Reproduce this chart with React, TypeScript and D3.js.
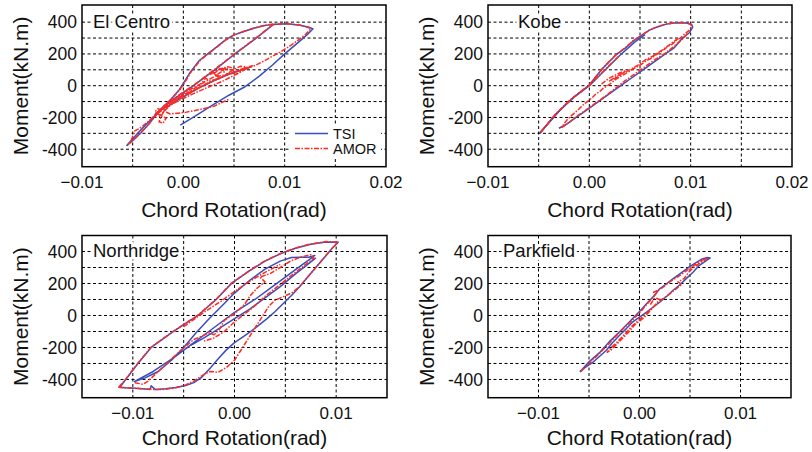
import React from "react";
import * as d3 from "d3";

type Pt = [number, number];

// ---------- Tick labels ----------
const xTicksWide = [-0.01, 0, 0.01, 0.02];
const xTicksNarrow = [-0.01, 0, 0.01];
const yTicks = [-400, -200, 0, 200, 400];
const yGrid = [-400, -300, -200, -100, 0, 100, 200, 300, 400];
const panelNames = ["El Centro", "Kobe", "Northridge", "Parkfield"];
const seriesNames = ["TSI", "AMOR"];

// ---------- El Centro ----------
const elCentroTsiOuter: Pt[] = [
  [-0.0056, -378], [-0.0049, -340], [-0.0042, -298], [-0.0036, -256], [-0.0029, -200], [-0.0023, -152],
  [-0.0016, -110], [-0.001, -69], [-0.0004, -25], [0, 15], [0.0007, 87], [0.0016, 160], [0.0025, 205],
  [0.0033, 244], [0.0041, 285], [0.0049, 317], [0.0059, 340], [0.0069, 360], [0.0079, 377], [0.0089, 386],
  [0.0102, 390], [0.0115, 380], [0.0124, 368], [0.0128, 358], [0.0122, 320], [0.0112, 265], [0.01, 200],
  [0.0088, 130], [0.0075, 60], [0.006, -10], [0.0045, -60], [0.0028, -125], [0.0012, -190], [-0.0003, -248],
];
const elCentroTsiDiagonal: Pt[] = [
  [-0.0056, -378], [-0.0045, -300], [-0.0035, -232], [-0.0025, -170], [-0.0012, -95], [0.001, 0],
  [0.003, 95], [0.005, 195], [0.007, 290], [0.0089, 386],
];
const elCentroTsiInner: Pt[] = [
  [-0.0028, -178], [-0.0015, -125], [0, -70], [0.0015, -15], [0.003, 30], [0.0045, 72], [0.006, 105], [0.0068, 122],
];
const elCentroAmorOuter: Pt[] = [
  [-0.0055, -372], [-0.0048, -335], [-0.0042, -295], [-0.0035, -250], [-0.0028, -195], [-0.0022, -150],
  [-0.0015, -105], [-0.0009, -65], [-0.0003, -22], [0.0001, 15], [0.0008, 90], [0.0017, 162], [0.0026, 208],
  [0.0034, 248], [0.0042, 288], [0.005, 320], [0.006, 343], [0.007, 364], [0.008, 380], [0.0089, 388],
  [0.0102, 391], [0.0115, 382], [0.0126, 360], [0.0121, 325], [0.0113, 285], [0.0104, 245], [0.0095, 210],
  [0.0086, 178], [0.0078, 150], [0.0071, 128], [0.0064, 112], [0.0058, 100], [0.0052, 88], [0.0046, 102],
  [0.0042, 115], [0.0038, 95], [0.0044, 70], [0.0035, 60], [0.003, 78], [0.0036, 45], [0.0026, 30],
  [0.0022, 48], [0.0018, 15], [0.0012, -5], [0.0005, -30], [-0.0002, -60], [-0.0008, -90], [-0.0013, -120],
  [-0.0018, -150], [-0.0021, -180], [-0.0024, -228], [-0.002, -236], [-0.0017, -205], [-0.0022, -190],
  [-0.0028, -165], [-0.0025, -145], [-0.0019, -160], [-0.0013, -178], [0.0002, -168], [0.0015, -152],
  [0.003, -130], [0.0045, -85],
];
const elCentroAmorDiagonal: Pt[] = [
  [0.0089, 388], [0.007, 292], [0.005, 198], [0.003, 98], [0.001, 3], [-0.0012, -92], [-0.0025, -165],
  [-0.0035, -228], [-0.0043, -268], [-0.0048, -285], [-0.0052, -355],
];
const elCentroAmorInner: Pt[] = [
  [-0.002, -130], [0, -60], [0.002, 0], [0.004, 62], [0.006, 110], [0.0068, 125], [0.0055, 82],
  [0.004, 32], [0.0025, -8], [0.001, -50], [-0.0005, -95], [-0.0018, -140], [-0.0025, -175],
];
const elCentroAmorCluster: Pt[] = [
  [-0.0022, -150], [-0.001, -95], [0.0008, -30], [0.002, 20], [0.003, 55], [0.0038, 90], [0.0042, 105],
  [0.0036, 110], [0.0032, 85], [0.0026, 70], [0.0034, 100], [0.0044, 120], [0.005, 108], [0.0045, 80],
  [0.0052, 70], [0.0058, 95], [0.0062, 118], [0.0056, 122], [0.0048, 95], [0.004, 60], [0.003, 35],
  [0.002, 5], [0.001, -35], [-0.0005, -85], [-0.0015, -135], [-0.0024, -195],
];

// ---------- Kobe ----------
const kobeTsiOuter: Pt[] = [
  [-0.0049, -298], [-0.004, -235], [-0.003, -162], [-0.0023, -115], [-0.0015, -70], [-0.0008, -35], [0, 4],
  [0.0013, 108], [0.0026, 192], [0.0036, 240], [0.0043, 280], [0.0052, 318], [0.0059, 348], [0.0067, 370],
  [0.0075, 386], [0.0083, 394], [0.0089, 397], [0.0096, 395], [0.0101, 385], [0.0102, 369], [0.0099, 335],
  [0.0092, 300], [0.0084, 240], [0.0075, 200], [0.0064, 150], [0.0053, 100], [0.0042, 50], [0.0031, 0],
  [0.002, -50], [0.0009, -100], [-0.0002, -150], [-0.0013, -200], [-0.0022, -240], [-0.003, -268],
];
const kobeTsiInner: Pt[] = [
  [-0.0049, -298], [-0.0033, -178], [-0.0015, -72], [0, 0], [0.0015, 96], [0.003, 190], [0.0045, 276], [0.0055, 322],
];
const kobeAmorOuter: Pt[] = [
  [-0.0048, -295], [-0.004, -232], [-0.003, -158], [-0.002, -96], [-0.001, -45], [0, 6], [0.0013, 110],
  [0.0026, 194], [0.0036, 242], [0.0043, 282], [0.0052, 320], [0.0059, 350], [0.0067, 372], [0.0075, 387],
  [0.0083, 395], [0.0089, 398], [0.0096, 396], [0.01, 386], [0.0101, 372], [0.0098, 345], [0.0093, 320],
  [0.009, 300], [0.0086, 288], [0.0082, 262], [0.0078, 250], [0.0074, 228], [0.007, 212], [0.0066, 195],
  [0.0061, 172], [0.0057, 160], [0.0052, 138], [0.0047, 118], [0.0043, 105], [0.0038, 85], [0.0034, 70],
  [0.003, 55], [0.0026, 40], [0.0022, 18], [0.0018, 0], [0.0014, -15], [0.001, -38], [0.0006, -55],
  [0.0002, -80], [-0.0002, -100], [-0.0006, -120], [-0.001, -145], [-0.0014, -168], [-0.0018, -190],
  [-0.0022, -215], [-0.0025, -240], [-0.0027, -262], [-0.0024, -250], [-0.002, -232], [-0.0014, -200],
  [-0.0005, -160], [0.0005, -115], [0.0015, -70], [0.0025, -20], [0.0035, 30], [0.0045, 75], [0.0055, 120],
  [0.0065, 165], [0.0075, 205], [0.0085, 255], [0.0093, 300], [0.0097, 330],
];
const kobeAmorCluster: Pt[] = [
  [0.0012, 10], [0.0018, 40], [0.0024, 62], [0.003, 80], [0.0036, 96], [0.0032, 70], [0.0026, 48],
  [0.002, 30], [0.0026, 55], [0.0034, 82], [0.004, 100], [0.0048, 130], [0.0056, 165], [0.0064, 190],
  [0.0072, 225], [0.008, 262], [0.0088, 300],
];
const kobeAmorInner: Pt[] = [
  [-0.0048, -295], [-0.0033, -175], [-0.0015, -70], [0, 2], [0.0015, 98], [0.003, 192],
];

// ---------- Northridge ----------
const northridgeTsiOuter: Pt[] = [
  [-0.0113, -450], [-0.0107, -400], [-0.0095, -300], [-0.0082, -200], [-0.006, -100], [-0.0036, 0],
  [-0.0018, 100], [-0.0003, 200], [0.0015, 280], [0.003, 340], [0.0045, 385], [0.006, 420], [0.0075, 445],
  [0.009, 460], [0.0102, 458], [0.0096, 420], [0.0088, 360], [0.008, 300], [0.0072, 240], [0.0064, 180],
  [0.0056, 125], [0.0048, 75], [0.004, 25], [0.0032, -20], [0.0024, -60], [0.0016, -100], [0.0008, -135],
  [0, -170], [-0.0008, -215], [-0.0016, -270], [-0.0024, -330], [-0.0032, -385], [-0.004, -420],
  [-0.0048, -438], [-0.0058, -450], [-0.0068, -458], [-0.0078, -462], [-0.0082, -440], [-0.0083, -462],
  [-0.0088, -460], [-0.0098, -455], [-0.0108, -452], [-0.0114, -448],
];
const northridgeTsiInner: Pt[] = [
  [-0.0099, -415], [-0.0088, -390], [-0.0075, -350], [-0.0062, -280], [-0.005, -200], [-0.0038, -110],
  [-0.0025, -20], [-0.001, 75], [0, 140], [0.0015, 220], [0.003, 290], [0.0045, 340], [0.0056, 362],
  [0.0065, 364], [0.0073, 364], [0.0079, 375], [0.0065, 310], [0.005, 240], [0.0035, 170], [0.002, 100],
  [0, 20], [-0.002, -75], [-0.004, -170], [-0.006, -265], [-0.008, -350], [-0.0099, -415],
];
const northridgeTsiSegment: Pt[] = [
  [-0.0043, -186], [-0.003, -140], [-0.0015, -80], [0, -20], [0.0015, 40], [0.003, 110], [0.0045, 180],
  [0.006, 260], [0.0072, 320], [0.008, 360],
];
const northridgeAmorOuter: Pt[] = [
  [-0.0114, -448], [-0.0107, -398], [-0.0095, -298], [-0.0082, -198], [-0.006, -98], [-0.0036, 2],
  [-0.0018, 102], [-0.0003, 202], [0.0015, 282], [0.003, 342], [0.0045, 387], [0.006, 422], [0.0075, 447],
  [0.009, 462], [0.0102, 458], [0.0096, 420], [0.0088, 360], [0.008, 300], [0.0072, 240], [0.0064, 180],
  [0.0056, 140], [0.0048, 118], [0.004, 96], [0.0034, 60], [0.003, 20], [0.0025, -30], [0.002, -80],
  [0.0015, -130], [0.001, -180], [0.0005, -230], [0, -280], [-0.0008, -325], [-0.0016, -355],
  [-0.0024, -350], [-0.003, -368], [-0.004, -410], [-0.005, -440], [-0.006, -455], [-0.007, -462],
  [-0.008, -462], [-0.009, -458], [-0.0105, -452], [-0.0114, -448],
];
const northridgeAmorInner: Pt[] = [
  [-0.0098, -420], [-0.009, -430], [-0.0085, -410], [-0.007, -320], [-0.0055, -230], [-0.004, -150],
  [-0.0025, -110], [-0.002, -120], [-0.0015, -90], [-0.001, -30], [0, 10], [0.001, 70], [0.0015, 120],
  [0.0022, 170], [0.003, 210], [0.0025, 240], [0.0035, 262], [0.0045, 300], [0.0055, 340], [0.0065, 365],
  [0.0075, 380], [0.0078, 360], [0.007, 320], [0.006, 270], [0.005, 220], [0.004, 170], [0.003, 120],
  [0.002, 60], [0.001, 10], [0, -40], [-0.001, -100], [-0.002, -140], [-0.003, -160],
];
const northridgeAmorUpper: Pt[] = [
  [-0.005, -70], [-0.003, 20], [-0.0013, 90], [0, 150], [0.0015, 215], [0.003, 270], [0.0045, 320],
];

// ---------- Parkfield ----------
const parkfieldTsi: Pt[] = [
  [-0.0059, -354], [-0.005, -290], [-0.0039, -229], [-0.003, -165], [-0.002, -104], [-0.0013, -60],
  [-0.0007, -21], [0, 25], [0.0007, 73], [0.0014, 120], [0.002, 167], [0.0027, 200], [0.0033, 229],
  [0.0041, 265], [0.0049, 302], [0.0056, 330], [0.0062, 354], [0.0067, 362], [0.007, 360], [0.0065, 338],
  [0.0059, 312], [0.0053, 270], [0.0046, 229], [0.004, 192], [0.0033, 156], [0.0027, 120], [0.002, 83],
  [0.0013, 50], [0.0007, 21], [0, -10], [-0.0007, -42], [-0.0013, -82], [-0.002, -125], [-0.0027, -172],
  [-0.0033, -219], [-0.004, -258], [-0.0046, -292], [-0.0053, -322], [-0.0059, -350],
];
const parkfieldAmor: Pt[] = [
  [-0.0058, -350], [-0.005, -300], [-0.004, -240], [-0.003, -175], [-0.0022, -120], [-0.0015, -75],
  [-0.0008, -35], [0, 15], [0.0008, 75], [0.0015, 125], [0.0018, 150], [0.0014, 145], [0.0022, 170],
  [0.003, 210], [0.004, 250], [0.005, 295], [0.006, 340], [0.0068, 362], [0.0064, 345], [0.0058, 320],
  [0.005, 280], [0.0044, 230], [0.0038, 210], [0.0042, 195], [0.0035, 160], [0.003, 135], [0.0022, 100],
  [0.0015, 60], [0.0008, 20], [0, -25], [-0.0008, -70], [-0.0015, -120], [-0.0022, -165], [-0.0028, -200],
  [-0.0032, -230], [-0.0028, -215], [-0.0018, -150], [-0.001, -100], [-0.0005, -60], [0.0005, -10],
  [0.0012, 40], [0.002, 100], [0.0015, 110], [0.001, 60],
];

// ---------- layout ----------
const FONT = "'Liberation Sans', Arial, Helvetica, sans-serif";
const BLUE = "#3b4dbb";
const RED = "#ff2a22";

type PanelCfg = {
  name: string;
  tsi: Pt[][];
  amor: Pt[][];
  xDomain: [number, number];
  xTicks: number[];
  yDomain: [number, number];
  left: number; right: number; top: number; bottom: number;
  labelX: number; labelY: number;
  titleY: number;
  legend?: boolean;
};

const panels: PanelCfg[] = [
  {
    name: panelNames[0], tsi: [elCentroTsiOuter, elCentroTsiDiagonal, elCentroTsiInner],
    amor: [elCentroAmorOuter, elCentroAmorDiagonal, elCentroAmorInner, elCentroAmorCluster],
    xDomain: [-0.01, 0.02], xTicks: xTicksWide, yDomain: [-510, 508],
    left: 82, right: 386, top: 5, bottom: 166.7, labelX: 93, labelY: 28, titleY: 217, legend: true,
  },
  {
    name: panelNames[1], tsi: [kobeTsiOuter, kobeTsiInner], amor: [kobeAmorOuter, kobeAmorCluster, kobeAmorInner],
    xDomain: [-0.01, 0.02], xTicks: xTicksWide, yDomain: [-510, 508],
    left: 488, right: 792, top: 5, bottom: 166.7, labelX: 518, labelY: 28, titleY: 217,
  },
  {
    name: panelNames[2], tsi: [northridgeTsiOuter, northridgeTsiInner, northridgeTsiSegment],
    amor: [northridgeAmorOuter, northridgeAmorInner, northridgeAmorUpper],
    xDomain: [-0.015, 0.015], xTicks: xTicksNarrow, yDomain: [-514, 500],
    left: 82, right: 387, top: 235.5, bottom: 397.7, labelX: 93, labelY: 257, titleY: 445,
  },
  {
    name: panelNames[3], tsi: [parkfieldTsi], amor: [parkfieldAmor],
    xDomain: [-0.015, 0.015], xTicks: xTicksNarrow, yDomain: [-514, 500],
    left: 488, right: 791, top: 235.5, bottom: 397.7, labelX: 503, labelY: 257, titleY: 445,
  },
];

const fmtX = (v: number) => (Math.abs(v) < 1e-9 ? "0.00" : d3.format(".2f")(v));

function Panel({ cfg }: { cfg: PanelCfg }) {
  const x = d3.scaleLinear().domain(cfg.xDomain).range([cfg.left, cfg.right]);
  const y = d3.scaleLinear().domain(cfg.yDomain).range([cfg.bottom, cfg.top]);
  const line = d3.line<Pt>().x((d) => x(d[0])).y((d) => y(d[1]));
  const gridX = d3.range(-4, 5).map((k) => k * 0.005).filter((v) => x(v) > cfg.left + 1 && x(v) < cfg.right - 1);
  const cx = (cfg.left + cfg.right) / 2;
  const cy = (cfg.top + cfg.bottom) / 2;
  return (
    <g>
      <rect x={cfg.left} y={cfg.top} width={cfg.right - cfg.left} height={cfg.bottom - cfg.top} fill="#fff" />
      <g stroke="#000" strokeWidth={1} strokeDasharray="3,2.5">
        {gridX.map((v) => (
          <line key={"gx" + v} x1={x(v)} x2={x(v)} y1={cfg.top} y2={cfg.bottom} />
        ))}
        {yGrid.map((v) => (
          <line key={"gy" + v} x1={cfg.left} x2={cfg.right} y1={y(v)} y2={y(v)} />
        ))}
      </g>
      <text x={cfg.labelX} y={cfg.labelY} fontFamily={FONT} fontSize={18.5} fill="#111"
        stroke="#fff" strokeWidth={6} paintOrder="stroke" strokeLinejoin="round">{cfg.name}</text>
      {cfg.tsi.map((p, i) => (
        <path key={"t" + i} d={line(p) || ""} fill="none" stroke={BLUE} strokeWidth={1.5} strokeLinejoin="round" />
      ))}
      {cfg.amor.map((p, i) => (
        <path key={"a" + i} d={line(p) || ""} fill="none" stroke={RED} strokeWidth={1.5}
          strokeDasharray="5,1.5,1.5,1.5" strokeLinejoin="round" />
      ))}
      {cfg.legend && (
        <g fontFamily={FONT} fontSize={14.5} fill="#111">
          <rect x={289} y={124} width={92} height={34} fill="#fff" />
          <line x1={295} x2={328} y1={133.5} y2={133.5} stroke={BLUE} strokeWidth={1.5} />
          <text x={333} y={138.5}>{seriesNames[0]}</text>
          <line x1={295} x2={328} y1={148.5} y2={148.5} stroke={RED} strokeWidth={1.5} strokeDasharray="5,1.5,1.5,1.5" />
          <text x={333} y={153.5}>{seriesNames[1]}</text>
        </g>
      )}
      <rect x={cfg.left} y={cfg.top} width={cfg.right - cfg.left} height={cfg.bottom - cfg.top}
        fill="none" stroke="#000" strokeWidth={1.5} />
      <g fontFamily={FONT} fill="#111">
        {yTicks.map((v) => (
          <text key={"yt" + v} x={cfg.left - 5} y={y(v)} dy="0.36em" textAnchor="end" fontSize={17.5}>{v}</text>
        ))}
        {cfg.xTicks.map((v) => (
          <text key={"xt" + v} x={x(v)} y={cfg.bottom + 21} textAnchor="middle" fontSize={17}>{fmtX(v)}</text>
        ))}
      </g>
      <text x={cx} y={cfg.titleY} textAnchor="middle" fontFamily={FONT} fontSize={21} fill="#111">
        Chord Rotation(rad)
      </text>
      <text transform={`translate(${cfg.left - 54},${cy}) rotate(-90)`} textAnchor="middle"
        fontFamily={FONT} fontSize={21} fill="#111">
        Moment(kN.m)
      </text>
    </g>
  );
}

export default function App() {
  return (
    <svg width={812} height={452} viewBox="0 0 812 452"
      style={{ position: "absolute", left: 0, top: 0, background: "#fff", display: "block" }}>
      <rect width={812} height={452} fill="#fff" />
      {panels.map((p) => (
        <Panel key={p.name} cfg={p} />
      ))}
    </svg>
  );
}
